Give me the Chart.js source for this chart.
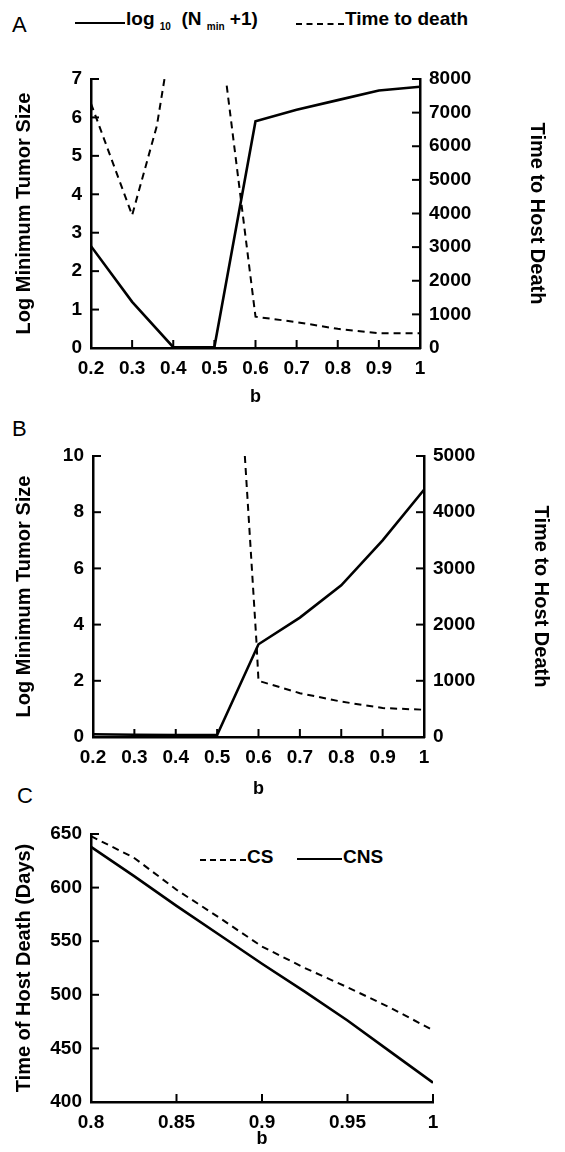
<!DOCTYPE html>
<html><head><meta charset="utf-8">
<script src="https://cdn.jsdelivr.net/npm/chart.js@4"></script>
<style>
body{margin:0;background:#fff;width:565px;height:1152px;position:relative;overflow:hidden;font-family:"Liberation Sans",Arial,sans-serif}
canvas{position:absolute;left:0}
.t{position:absolute;color:#000;font-weight:bold;font-size:19px;white-space:nowrap}
.p{position:absolute;font-size:22px;font-weight:normal}
.ln{position:absolute;height:0;border-top:2.5px solid #000}
.ds{position:absolute;height:0;border-top:2px dashed #000}
sub{font-size:10px}
</style></head><body>
<div class="t p" style="left:12px;top:12px">A</div>
<div class="t p" style="left:12px;top:416px">B</div>
<div class="t p" style="left:17px;top:783px">C</div>
<div class="ln" style="left:75px;top:22px;width:50px"></div>
<div class="t" style="left:126px;top:8px">log <sub>10</sub> &nbsp;(N <sub>min</sub> +1)</div>
<div class="ds" style="left:296px;top:23px;width:48px"></div>
<div class="t" style="left:345px;top:8px">Time to death</div>
<div class="ds" style="left:200px;top:859px;width:46px"></div>
<div class="t" style="left:247px;top:846px">CS</div>
<div class="ln" style="left:297px;top:858px;width:45px"></div>
<div class="t" style="left:343px;top:846px">CNS</div>
<canvas id="ca" width="565" height="410" style="top:0"></canvas>
<canvas id="cb" width="565" height="392" style="top:410px"></canvas>
<canvas id="cc" width="565" height="352" style="top:800px"></canvas>
<script>
// ---- data ----
const aTumorB = [0.2,0.3,0.4,0.5,0.6,0.7,0.8,0.9,1.0];
const aTumor  = [2.65,1.2,0.02,0.02,5.9,6.2,6.45,6.7,6.8];
const aDeathB = [0.2,0.3,0.36,0.38,0.45,0.53,0.6,0.7,0.8,0.9,1.0];
const aDeath  = [7270,3950,6600,8100,null,7800,930,770,570,440,440];
const bTumorB = [0.2,0.3,0.4,0.5,0.6,0.7,0.8,0.9,1.0];
const bTumor  = [0.1,0.08,0.07,0.07,3.3,4.25,5.4,7.0,8.8];
const bDeathB = [0.567,0.595,0.6,0.7,0.8,0.9,1.0];
const bDeath  = [5000,1700,1000,780,630,515,485];
const cB      = [0.8,0.825,0.85,0.875,0.9,0.925,0.95,0.975,1.0];
const cCS     = [648,628,598,572,545,525,507,488,467];
const cCNS    = [638,611,583,556,529,503,476,447,418];
const abTicks = [0.2,0.3,0.4,0.5,0.6,0.7,0.8,0.9,1];
const cTicks  = [0.8,0.85,0.9,0.95,1];

const F = {family:'"Liberation Sans",Arial,sans-serif',weight:'bold',size:19};
const FT = {family:'"Liberation Sans",Arial,sans-serif',weight:'bold',size:20};
const pts = (xs,ys)=>xs.map((x,i)=>({x:x,y:ys[i]}));
const fmt = v=>String(Number(v.toFixed(3)));

const inTicks = {id:'inTicks',afterDraw(ch){
  const c=ch.ctx,a=ch.chartArea;c.save();c.strokeStyle='#000';c.lineWidth=2;
  for(const s of Object.values(ch.scales)){
    for(const t of s.ticks){
      const p=s.getPixelForValue(t.value);c.beginPath();
      if(s.axis==='x'){c.moveTo(p,a.bottom);c.lineTo(p,a.bottom-8);}
      else if(s.position==='left'){c.moveTo(a.left,p);c.lineTo(a.left+8,p);}
      else{c.moveTo(a.right,p);c.lineTo(a.right-8,p);}
      c.stroke();
    }
  }
  c.restore();}};

function xScale(min,max,ticks,h){return {type:'linear',min:min,max:max,
  afterBuildTicks:s=>{s.ticks=ticks.map(v=>({value:v}));},
  afterFit:s=>{s.height=h;},
  grid:{display:false,drawTicks:false},border:{display:true,color:'#000',width:2.5},
  ticks:{font:F,color:'#000',padding:9,maxRotation:0,callback:fmt},
  title:{display:true,text:'b',font:{...F,size:18},color:'#000',padding:{top:0,bottom:2}}};}
function yScale(pos,min,max,step,title,w){return {type:'linear',position:pos,min:min,max:max,
  afterBuildTicks:s=>{const t=[];for(let v=min;v<=max+1e-9;v+=step)t.push({value:v});s.ticks=t;},
  afterFit:s=>{s.width=w;},
  grid:{display:false,drawTicks:false},border:{display:true,color:'#000',width:2.5},
  ticks:{font:F,color:'#000',padding:9,callback:fmt},
  title:{display:true,text:title,font:FT,color:'#000',padding:{top:2,bottom:2}}};}

const solid = {borderColor:'#000',borderWidth:2.6,pointRadius:0,fill:false,tension:0};
const dash  = {borderColor:'#000',borderWidth:2,borderDash:[7,5],pointRadius:0,fill:false,tension:0,spanGaps:false};
const base = (pad)=>({responsive:false,animation:false,
  layout:{padding:pad},plugins:{legend:{display:false},tooltip:{enabled:false}}});

new Chart(document.getElementById('ca'),{type:'line',
  data:{datasets:[Object.assign({data:pts(aTumorB,aTumor),yAxisID:'y'},solid),
                  Object.assign({data:pts(aDeathB,aDeath),yAxisID:'y2'},dash)]},
  options:Object.assign(base({top:79,left:10,right:14,bottom:0}),{scales:{
    x:xScale(0.2,1,abTicks,62),
    y:yScale('left',0,7,1,'Log Minimum Tumor Size',81),
    y2:yScale('right',0,8000,1000,'Time to Host Death',131)}}),
  plugins:[inTicks]});

new Chart(document.getElementById('cb'),{type:'line',
  data:{datasets:[Object.assign({data:pts(bTumorB,bTumor),yAxisID:'y'},solid),
                  Object.assign({data:pts(bDeathB,bDeath),yAxisID:'y2'},dash)]},
  options:Object.assign(base({top:46,left:10,right:10,bottom:0}),{scales:{
    x:xScale(0.2,1,abTicks,65),
    y:yScale('left',0,10,2,'Log Minimum Tumor Size',83),
    y2:yScale('right',0,5000,1000,'Time to Host Death',131)}}),
  plugins:[inTicks]});

new Chart(document.getElementById('cc'),{type:'line',
  data:{datasets:[Object.assign({data:pts(cB,cCS)},dash),
                  Object.assign({data:pts(cB,cCNS)},solid)]},
  options:Object.assign(base({top:34,left:10,right:132,bottom:0}),{scales:{
    x:xScale(0.8,1,cTicks,50),
    y:yScale('left',400,650,50,'Time of Host Death (Days)',81)}}),
  plugins:[inTicks]});
</script></body></html>
